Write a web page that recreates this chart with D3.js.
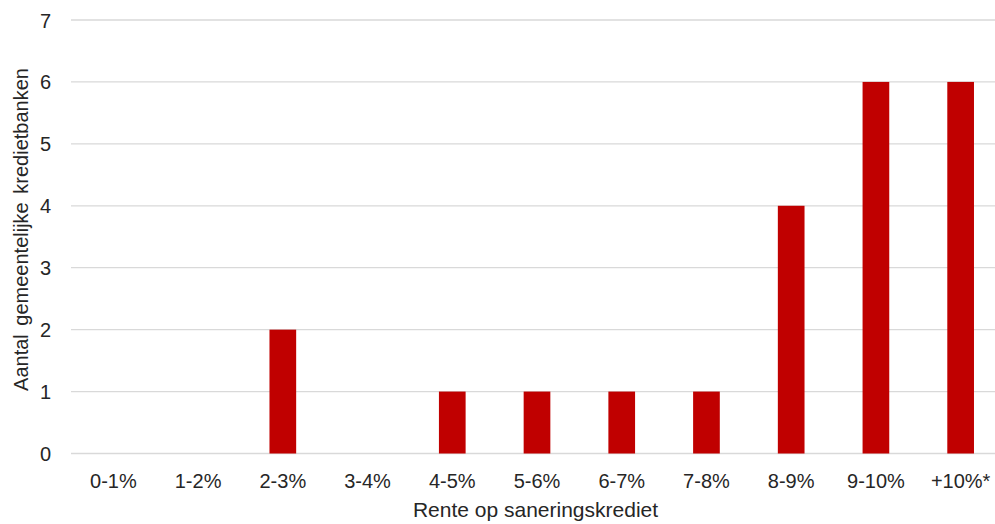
<!DOCTYPE html>
<html>
<head>
<meta charset="utf-8">
<script src="https://cdn.jsdelivr.net/npm/d3@7"></script>
<style>
  body { margin: 0; background: #fff; }
  text { font-family: "Liberation Sans", Arial, sans-serif; fill: #262626; }
</style>
</head>
<body>
<svg id="chart" width="995" height="524"></svg>
<script>
// categorieën en waarden
var categories = ["0-1%", "1-2%", "2-3%", "3-4%", "4-5%", "5-6%", "6-7%", "7-8%", "8-9%", "9-10%", "+10%*"];
var values = [0, 0, 2, 0, 1, 1, 1, 1, 4, 6, 6];
var yTicks = [0, 1, 2, 3, 4, 5, 6, 7];

var svg = d3.select("#chart"),
    margin = {left: 71, right: -8, top: 20, bottom: 71},
    width = +svg.attr("width"),
    height = +svg.attr("height");

var x = d3.scaleBand()
    .domain(categories)
    .range([margin.left, width - margin.right])
    .paddingInner(0.685)
    .paddingOuter(0.3425);

var y = d3.scaleLinear()
    .domain([0, 7])
    .range([height - margin.bottom + 0.5, margin.top]);

// rasterlijnen
svg.append("g")
    .selectAll("line")
    .data(yTicks)
    .enter().append("line")
    .attr("x1", margin.left)
    .attr("x2", width)
    .attr("y1", function(d) { return y(d); })
    .attr("y2", function(d) { return y(d); })
    .attr("stroke", "#d9d9d9")
    .attr("stroke-width", 1.3);

// staven
svg.append("g")
    .selectAll("rect")
    .data(values)
    .enter().append("rect")
    .attr("x", function(d, i) { return x(categories[i]); })
    .attr("width", x.bandwidth())
    .attr("y", function(d) { return y(d); })
    .attr("height", function(d) { return y(0) - y(d); })
    .attr("fill", "#c00000");

// y-as
var yAxis = svg.append("g")
    .attr("transform", "translate(" + (margin.left - 20) + ",0)")
    .call(d3.axisLeft(y).tickValues(yTicks).tickFormat(d3.format("d")).tickSize(0).tickPadding(0));
yAxis.select(".domain").remove();
yAxis.selectAll("text")
    .style("font-size", "20px")
    .attr("dy", "0.35em");

// x-as
var xAxis = svg.append("g")
    .attr("transform", "translate(0," + y(0) + ")")
    .call(d3.axisBottom(x).tickSize(0).tickPadding(20));
xAxis.select(".domain").remove();
xAxis.selectAll("text")
    .style("font-size", "20px");

// astitels
svg.append("text")
    .attr("x", 535.5)
    .attr("y", 517)
    .attr("text-anchor", "middle")
    .style("font-size", "21px")
    .text("Rente op saneringskrediet");

svg.append("text")
    .attr("transform", "translate(28,229.5) rotate(-90)")
    .attr("text-anchor", "middle")
    .style("font-size", "20px")
    .style("word-spacing", "3px")
    .text("Aantal gemeentelijke kredietbanken");
</script>
</body>
</html>
